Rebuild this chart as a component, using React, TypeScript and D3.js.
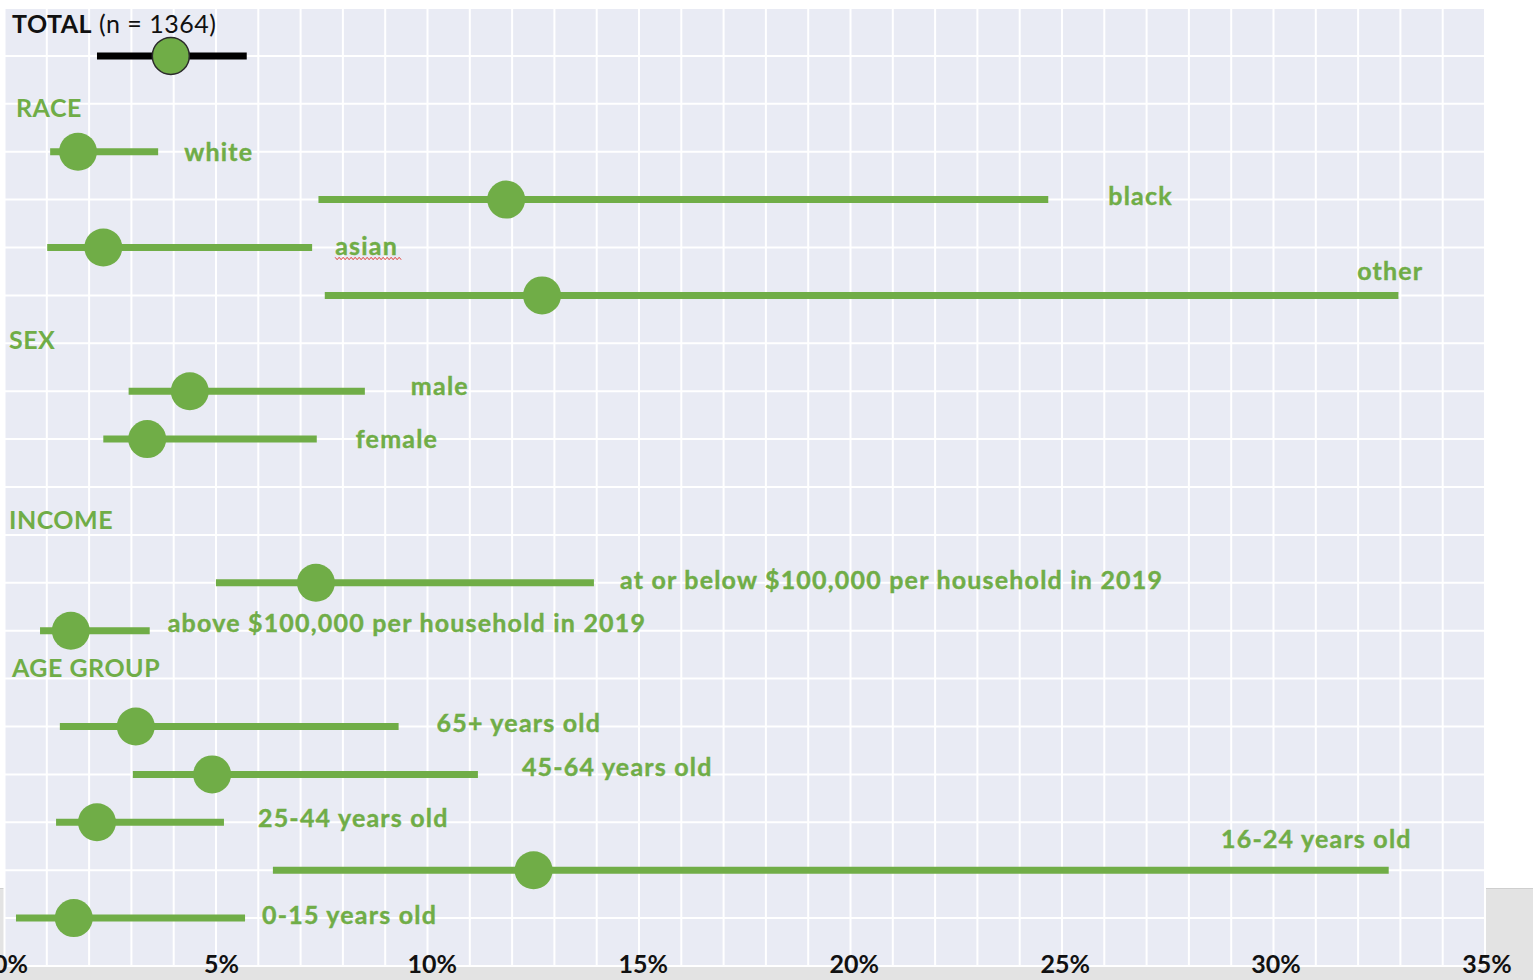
import React from "react";
import * as d3 from "d3";

// ---------- data ----------
const categories = [
  "white", "black", "asian", "other",
  "male", "female",
  "at or below $100,000 per household in 2019", "above $100,000 per household in 2019",
  "65+ years old", "45-64 years old", "25-44 years old", "16-24 years old", "0-15 years old",
];
const lowValues = [0.94, 7.3, 0.87, 7.45, 2.8, 2.2, 4.87, 0.7, 1.17, 2.9, 1.08, 6.22, 0.13];
const pointValues = [1.6, 11.75, 2.2, 12.6, 4.25, 3.24, 7.24, 1.43, 2.97, 4.78, 2.05, 12.4, 1.5];
const highValues = [3.5, 24.6, 7.15, 32.9, 8.4, 7.26, 13.83, 3.3, 9.2, 11.08, 5.06, 32.67, 5.56];
const rowIndex = [3, 4, 5, 6, 8, 9, 12, 13, 15, 16, 17, 18, 19];

const totalLabel = "TOTAL";
const totalN = "(n = 1364)";
const totalLow = 2.05;
const totalPoint = 3.8;
const totalHigh = 5.6;

const groupNames = ["RACE", "SEX", "INCOME", "AGE GROUP"];
const groupRows = [2.08, 6.93, 10.69, 13.78];

const tickValues = [0, 5, 10, 15, 20, 25, 30, 35];

// ---------- styling / layout (not data) ----------
const labelDx = [26, 60, 23, 25, 46, 39, 26, 18, 38, 44, 34, 23, 17];
const labelDy = [0, -4, -2, -24, -5, 0, -3, -8, -4, -7, -4, -31, -3];
const labelAnchorEnd = [false, false, false, true, false, false, false, false, false, false, false, true, false];
const groupX = [16, 9, 9, 12];

const W = 1533;
const H = 980;
const GREEN = "#70ad47";
const PANEL = "#e9ebf4";
const FONT = "Lato, 'Open Sans', sans-serif";

export default function App() {
  const x = d3.scaleLinear().domain([0, 35]).range([10.5, 1487]);
  const gx = d3.scaleLinear().domain([0, 35]).range([4.5, 1485]);
  const y = d3.scaleLinear().domain([0, 20]).range([8, 966]);

  const gridCols = d3.range(0, 36);
  const gridRows = d3.range(0, 21);

  const wave = (x0: number, x1: number, yy: number) => {
    const pts: [number, number][] = [];
    let i = 0;
    for (let xx = x0; xx <= x1; xx += 2, i++) pts.push([xx, yy + (i % 2 === 0 ? -1.2 : 1.2)]);
    return d3.line()(pts) || "";
  };

  return (
    <svg
      width={W}
      height={H}
      style={{ position: "absolute", left: 0, top: 0, background: "#ffffff" }}
      fontFamily={FONT}
    >
      {/* grey window areas */}
      <rect x={0} y={888} width={W} height={H - 888} fill="#e3e3e3" />
      <line x1={0} x2={W} y1={888.5} y2={888.5} stroke="#cfcfcf" strokeWidth={1} />
      {/* panel */}
      <rect x={gx(0)} y={y(0)} width={gx(35) - gx(0)} height={y(20) - y(0)} fill={PANEL} />
      {gridCols.map((c) => (
        <line key={"gc" + c} x1={gx(c)} x2={gx(c)} y1={y(0)} y2={y(20)} stroke="#ffffff" strokeWidth={2} />
      ))}
      {gridRows.map((r) => (
        <line key={"gr" + r} x1={gx(0)} x2={gx(35)} y1={y(r)} y2={y(r)} stroke="#ffffff" strokeWidth={2} />
      ))}

      {/* total */}
      <text x={12} y={33} fontSize={25} fill="#111" letterSpacing={0.5}>
        <tspan fontWeight={700}>{totalLabel}</tspan>
        <tspan fontWeight={400}> {totalN}</tspan>
      </text>
      <line x1={x(totalLow)} x2={x(totalHigh)} y1={y(1)} y2={y(1)} stroke="#000" strokeWidth={7} />
      <circle cx={x(totalPoint)} cy={y(1)} r={18.5} fill={GREEN} stroke="#2b2b2b" strokeWidth={1.5} />

      {/* group headings */}
      {groupNames.map((g, i) => (
        <text key={g} x={groupX[i]} y={y(groupRows[i]) + 9} fontSize={25} fontWeight={700} fill={GREEN} letterSpacing={0.5}>
          {g}
        </text>
      ))}

      {/* categories */}
      {categories.map((c, i) => {
        const yy = y(rowIndex[i]);
        const lx = x(highValues[i]) + labelDx[i];
        return (
          <g key={c}>
            <line x1={x(lowValues[i])} x2={x(highValues[i])} y1={yy} y2={yy} stroke={GREEN} strokeWidth={7} />
            <circle cx={x(pointValues[i])} cy={yy} r={19} fill={GREEN} />
            <text
              x={lx}
              y={yy + labelDy[i] + 9}
              fontSize={25}
              fontWeight={700}
              fill={GREEN}
              stroke={GREEN}
              strokeWidth={0.4}
              letterSpacing={1.2}
              textAnchor={labelAnchorEnd[i] ? "end" : "start"}
            >
              {c}
            </text>
            {c === "asian" ? (
              <path d={wave(lx, lx + 66, yy + labelDy[i] + 13)} fill="none" stroke="#e0403a" strokeWidth={1} />
            ) : null}
          </g>
        );
      })}

      {/* x tick labels */}
      {tickValues.map((t) => (
        <text key={"t" + t} x={x(t)} y={973} fontSize={25} fontWeight={700} fill="#111" textAnchor="middle">
          {t + "%"}
        </text>
      ))}
    </svg>
  );
}
